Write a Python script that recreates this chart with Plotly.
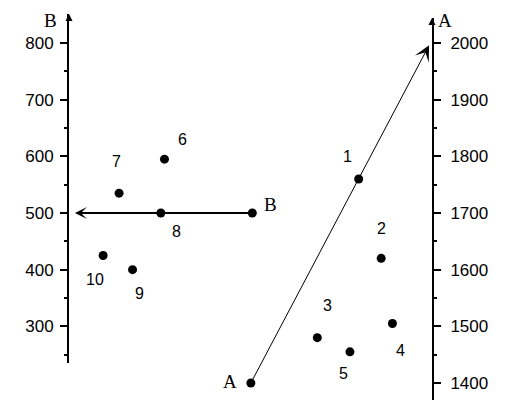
import plotly.graph_objects as go

# ---- data ----
a_labels = ["1", "2", "3", "4", "5"]
a_x = [79.8, 86.0, 68.4, 89.1, 77.4]
a_vals = [1760, 1620, 1480, 1505, 1455]

b_labels = ["6", "7", "8", "9", "10"]
b_x = [26.3, 13.8, 25.3, 17.5, 9.4]
b_vals = [595, 535, 500, 400, 425]

line_a_x = [50.1, 99.2]
line_a_vals = [1400, 1996]
line_b_x = [50.5, 1.65]
line_b_vals = [500, 500]

b_ticks = [300, 400, 500, 600, 700, 800]
b_minor = [250, 350, 450, 550, 650, 750]
a_ticks = [1400, 1500, 1600, 1700, 1800, 1900, 2000]
a_minor = [1450, 1550, 1650, 1750, 1850, 1950]

# ---- label offsets (pixels) ----
a_off = [(-11, 23), (0, 30), (10, 32), (8, -27), (-6, -22)]
b_off = [(18, 20), (-3, 32), (16, -18), (7, -24), (-8, -24)]

SANS = "Liberation Sans, Arial, sans-serif"
SERIF = "Liberation Serif, Times New Roman, serif"

fig = go.Figure()

fig.add_trace(go.Scatter(
    x=a_x + [line_a_x[0]], y=a_vals + [line_a_vals[0]],
    xaxis="x", yaxis="y2", mode="markers",
    marker=dict(color="black", size=9), cliponaxis=False, hoverinfo="skip"))
fig.add_trace(go.Scatter(
    x=b_x + [line_b_x[0]], y=b_vals + [line_b_vals[0]],
    xaxis="x", yaxis="y", mode="markers",
    marker=dict(color="black", size=9), cliponaxis=False, hoverinfo="skip"))

ann = []
# arrows
ann.append(dict(x=line_a_x[1], y=line_a_vals[1], xref="x", yref="y2",
                ax=line_a_x[0], ay=line_a_vals[0], axref="x", ayref="y2",
                showarrow=True, arrowhead=3, arrowsize=2.6, arrowwidth=1,
                arrowcolor="black", text=""))
ann.append(dict(x=line_b_x[1], y=line_b_vals[1], xref="x", yref="y",
                ax=line_b_x[0], ay=line_b_vals[0], axref="x", ayref="y",
                showarrow=True, arrowhead=3, arrowsize=1.0, arrowwidth=2,
                arrowcolor="black", text=""))
# axis top arrows
ann.append(dict(x=0, y=1, xref="x domain", yref="y domain", ax=0, ay=7,
                showarrow=True, arrowhead=2, arrowsize=0.7, arrowwidth=2,
                arrowcolor="black", text=""))
ann.append(dict(x=1, y=1, xref="x domain", yref="y2 domain", ax=0, ay=7,
                showarrow=True, arrowhead=2, arrowsize=0.7, arrowwidth=2,
                arrowcolor="black", text=""))
# point labels
for lab, xv, yv, (dx, dy) in zip(a_labels, a_x, a_vals, a_off):
    ann.append(dict(x=xv, y=yv, xref="x", yref="y2", text=lab, showarrow=False,
                    xanchor="center", yanchor="middle",
                    xshift=dx, yshift=dy, font=dict(family=SANS, size=16, color="black")))
for lab, xv, yv, (dx, dy) in zip(b_labels, b_x, b_vals, b_off):
    ann.append(dict(x=xv, y=yv, xref="x", yref="y", text=lab, showarrow=False,
                    xanchor="center", yanchor="middle",
                    xshift=dx, yshift=dy, font=dict(family=SANS, size=16, color="black")))
ann.append(dict(x=line_a_x[0], y=line_a_vals[0], xref="x", yref="y2", text="A",
                showarrow=False, xanchor="center", yanchor="middle", xshift=-21, yshift=2,
                font=dict(family=SERIF, size=19, color="black")))
ann.append(dict(x=line_b_x[0], y=line_b_vals[0], xref="x", yref="y", text="B",
                showarrow=False, xanchor="center", yanchor="middle", xshift=18, yshift=9,
                font=dict(family=SERIF, size=19, color="black")))
# axis titles
ann.append(dict(x=0, y=1, xref="x domain", yref="y domain", text="B",
                showarrow=False, xanchor="center", yanchor="middle", xshift=-19, yshift=-6,
                font=dict(family=SERIF, size=19, color="black")))
ann.append(dict(x=1, y=1, xref="x domain", yref="y2 domain", text="A",
                showarrow=False, xanchor="center", yanchor="middle", xshift=13, yshift=-2,
                font=dict(family=SERIF, size=19, color="black")))

axis_common = dict(showgrid=False, zeroline=False, showline=True, linecolor="black",
                   linewidth=2, ticks="outside", ticklen=7, tickwidth=2,
                   tickcolor="black", tickfont=dict(family=SANS, size=17, color="black"),
                   fixedrange=True)

fig.update_layout(
    width=505, height=409, autosize=False,
    margin=dict(l=61, r=81, t=6, b=17, pad=0),
    paper_bgcolor="white", plot_bgcolor="rgba(0,0,0,0)",
    showlegend=False,
    xaxis=dict(range=[0, 100], visible=False, fixedrange=True),
    yaxis=dict(domain=[0.0959, 1], range=[235.3, 851.2], anchor="x", side="left",
               tickmode="array", tickvals=b_ticks, ticklabelstandoff=3,
               minor=dict(tickmode="array", tickvals=b_minor, ticks="outside",
                          ticklen=3, tickwidth=2, tickcolor="black", showgrid=False),
               **axis_common),
    yaxis2=dict(domain=[0, 0.9896], range=[1370.0, 2044.1], anchor="x", side="right",
                tickmode="array", tickvals=a_ticks, ticklabelstandoff=6,
                minor=dict(tickmode="array", tickvals=a_minor, ticks="outside",
                           ticklen=3, tickwidth=2, tickcolor="black", showgrid=False),
                **axis_common),
    annotations=ann,
)

fig.write_html("out.html")
